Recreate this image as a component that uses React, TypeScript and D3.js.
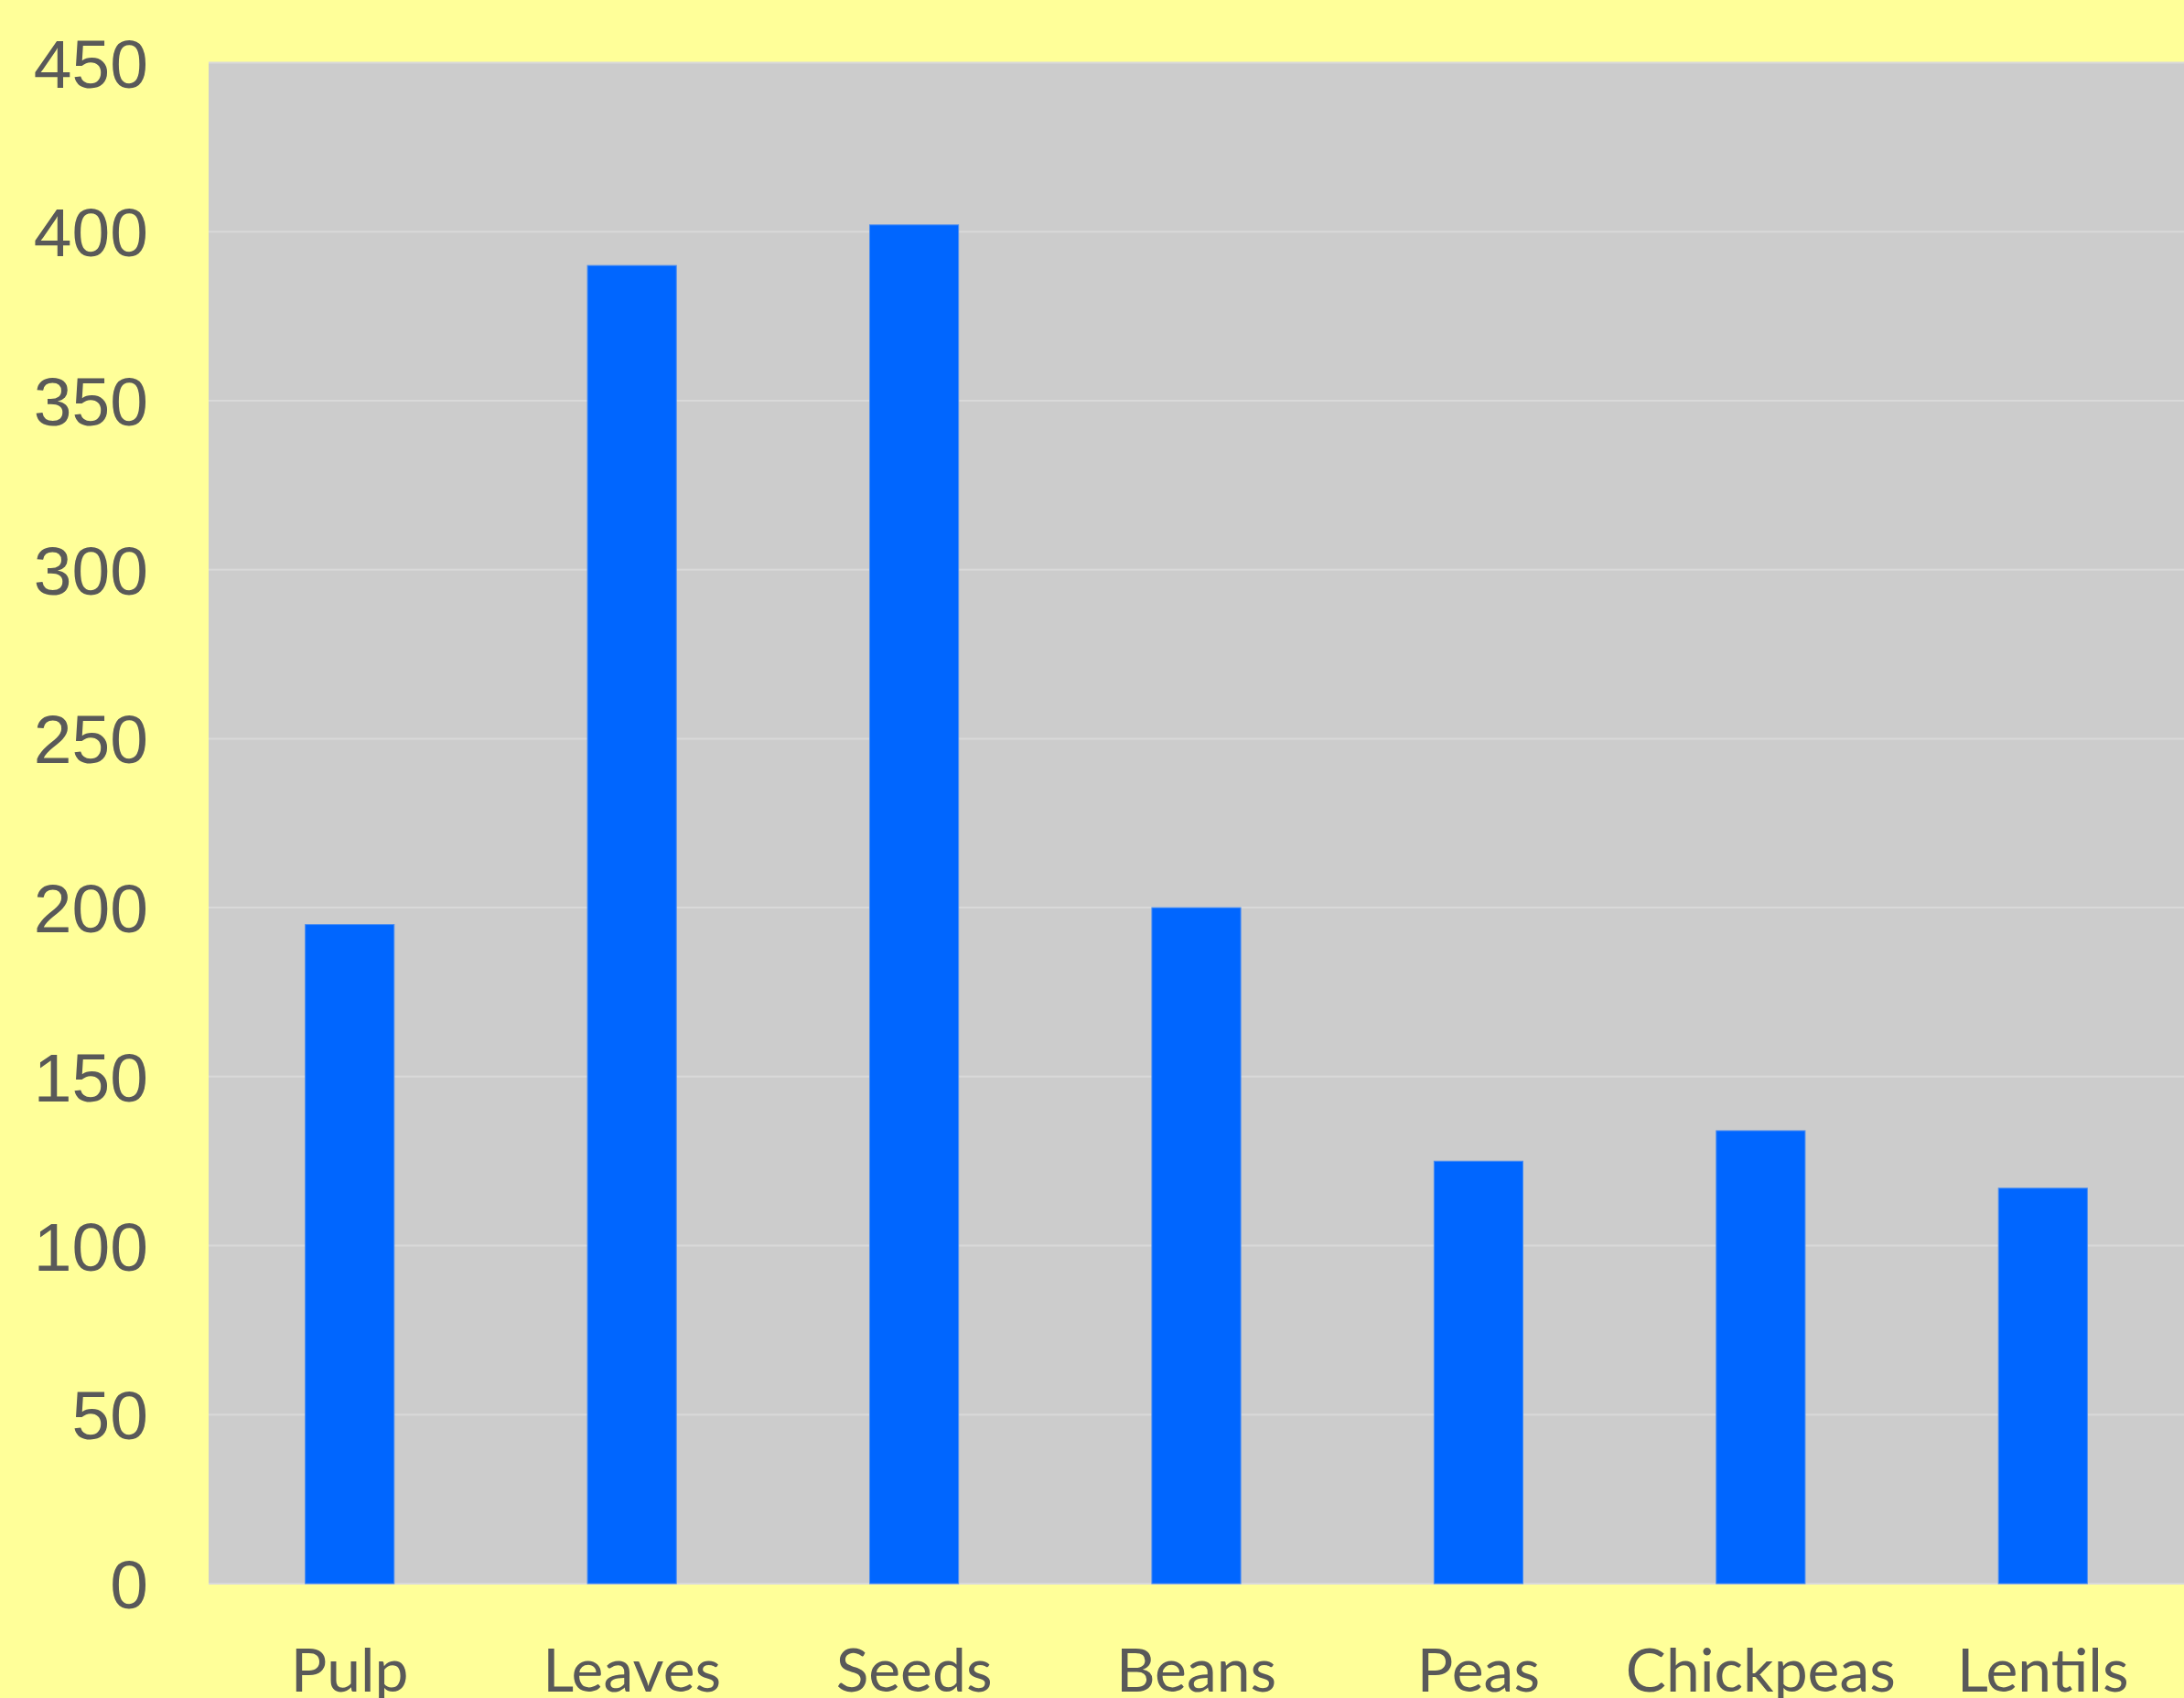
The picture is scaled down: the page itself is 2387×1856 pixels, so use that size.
import React from "react";
import * as d3 from "d3";

const categories = ["Pulp", "Leaves", "Seeds", "Beans", "Peas", "Chickpeas", "Lentils"];
const values = [195, 390, 402, 200, 125, 134, 117];
const yTicks = [0, 50, 100, 150, 200, 250, 300, 350, 400, 450];

const W = 2387;
const H = 1856;
const M = { left: 228, right: 0, top: 68.5, bottom: 125 };

export default function App() {
  const x = d3
    .scaleBand<string>()
    .domain(categories)
    .range([M.left, W - M.right])
    .paddingInner(0.685)
    .paddingOuter(0.3425);
  const y = d3.scaleLinear().domain([0, 450]).range([H - M.bottom, M.top]);

  return (
    <svg
      width={W}
      height={H}
      style={{ position: "absolute", left: 0, top: 0, display: "block" }}
    >
      <rect x={0} y={0} width={W} height={H} fill="#FFFF99" />
      <rect
        x={M.left}
        y={M.top}
        width={W - M.left - M.right}
        height={y(0) - M.top}
        fill="#CCCCCC"
      />
      {yTicks.map((t) => (
        <line
          key={"g" + t}
          x1={M.left}
          x2={W - M.right}
          y1={y(t)}
          y2={y(t)}
          stroke="#D9D9D9"
          strokeWidth={2}
        />
      ))}
      {categories.map((c, i) => (
        <rect
          key={c}
          x={x(c)}
          y={y(values[i])}
          width={x.bandwidth()}
          height={y(0) - y(values[i])}
          fill="#0066FF"
          stroke="#4D8EF0"
          strokeWidth={1}
        />
      ))}
      {yTicks.map((t) => (
        <text
          key={"t" + t}
          x={162}
          y={y(t)}
          dy="0.36em"
          textAnchor="end"
          fontFamily="'Liberation Sans', Arial, sans-serif"
          fontSize={75}
          fill="#595959"
        >
          {t}
        </text>
      ))}
      {categories.map((c) => (
        <text
          key={"x" + c}
          x={(x(c) as number) + x.bandwidth() / 2}
          y={1849}
          textAnchor="middle"
          fontFamily="Lato, 'Noto Sans', sans-serif"
          fontSize={66}
          fill="#595959"
        >
          {c}
        </text>
      ))}
    </svg>
  );
}
